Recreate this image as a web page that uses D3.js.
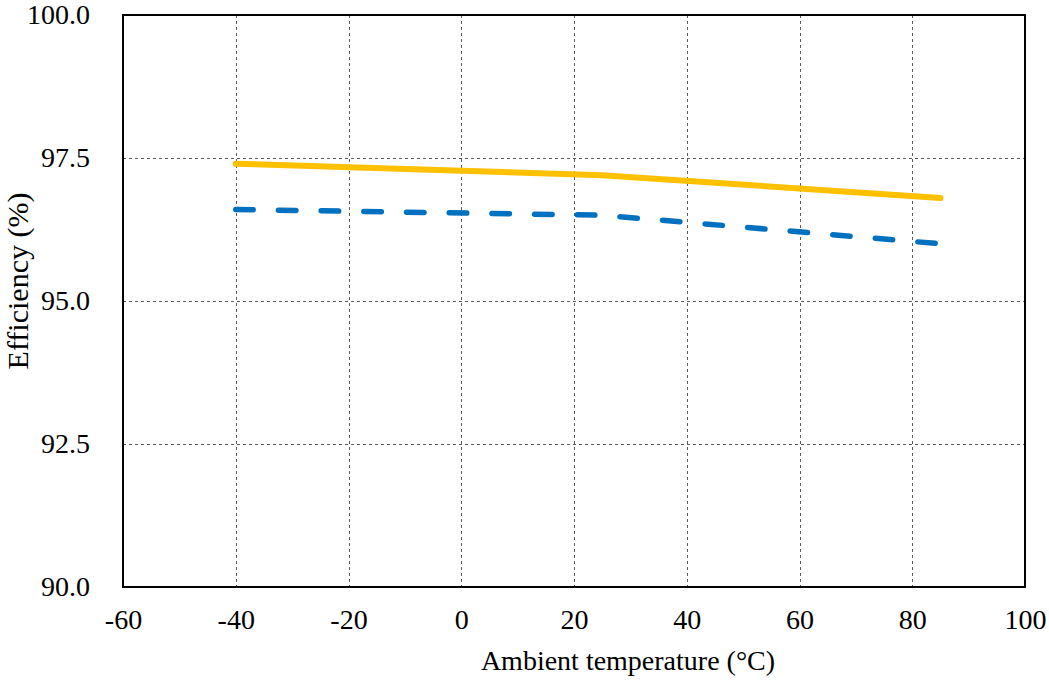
<!DOCTYPE html>
<html>
<head>
<meta charset="utf-8">
<script src="https://cdn.jsdelivr.net/npm/d3@7"></script>
<style>
  html, body { margin: 0; padding: 0; background: #fff; }
</style>
</head>
<body>
<svg id="chart"></svg>
<script>
// data
var temps = [-40, 25, 85];
var effSolid = [97.4, 97.2, 96.8];   // orange
var effDashed = [96.6, 96.5, 96.0];  // blue dashed
var xTicks = [-60, -40, -20, 0, 20, 40, 60, 80, 100];
var yTicks = [90, 92.5, 95, 97.5, 100];

var width = 1049, height = 684;
var marginLeft = 123, marginRight = 24, marginTop = 15, marginBottom = 97;
var serif = '"Liberation Serif"';

var svg = d3.select("#chart")
    .attr("width", width)
    .attr("height", height)
    .attr("viewBox", [0, 0, width, height]);

var x = d3.scaleLinear().domain([-60, 100]).range([marginLeft, width - marginRight]);
var y = d3.scaleLinear().domain([90, 100]).range([height - marginBottom, marginTop]);

// grid
var grid = svg.append("g")
    .attr("stroke", "#5a5a5a")
    .attr("stroke-width", 1)
    .attr("stroke-dasharray", "3,3");

grid.selectAll(".vg")
  .data(xTicks.slice(1, -1))
  .join("line")
    .attr("x1", d => Math.round(x(d)) + 0.5)
    .attr("x2", d => Math.round(x(d)) + 0.5)
    .attr("y1", y(100))
    .attr("y2", y(90));

grid.selectAll(".hg")
  .data(yTicks.slice(1, -1))
  .join("line")
    .attr("y1", d => Math.round(y(d)) + 0.5)
    .attr("y2", d => Math.round(y(d)) + 0.5)
    .attr("x1", x(-60))
    .attr("x2", x(100));

// series
var line = d3.line()
    .x((d, i) => x(temps[i]))
    .y(d => y(d));

svg.append("path")
    .datum(effSolid)
    .attr("fill", "none")
    .attr("stroke", "#FFC000")
    .attr("stroke-width", 6)
    .attr("stroke-linecap", "round")
    .attr("stroke-linejoin", "round")
    .attr("d", line);

svg.append("path")
    .datum(effDashed)
    .attr("fill", "none")
    .attr("stroke", "#0070C0")
    .attr("stroke-width", 5.5)
    .attr("stroke-linecap", "round")
    .attr("stroke-dasharray", "17.5,25.2")
    .attr("d", line);

// frame
svg.append("rect")
    .attr("x", x(-60))
    .attr("y", y(100))
    .attr("width", x(100) - x(-60))
    .attr("height", y(90) - y(100))
    .attr("fill", "none")
    .attr("stroke", "#000")
    .attr("stroke-width", 2);

// axes (labels only, Excel style)
var xAxis = d3.axisBottom(x).tickValues(xTicks).tickSize(0).tickPadding(22).tickFormat(d => String(d));
svg.append("g")
    .attr("transform", `translate(0,${y(90)})`)
    .call(xAxis)
    .call(g => g.select(".domain").remove())
    .call(g => g.selectAll("text")
        .style("font-size", "28px")
        .style("font-family", serif)
        .attr("fill", "#000"));

var yAxis = d3.axisLeft(y).tickValues(yTicks).tickSize(0).tickPadding(33).tickFormat(d => d.toFixed(1));
svg.append("g")
    .attr("transform", `translate(${x(-60)},0)`)
    .call(yAxis)
    .call(g => g.select(".domain").remove())
    .call(g => g.selectAll("text")
        .style("font-size", "28px")
        .style("font-family", serif)
        .attr("fill", "#000"));

// axis titles
svg.append("text")
    .attr("x", 628)
    .attr("y", 670)
    .attr("text-anchor", "middle")
    .style("font-size", "28px")
    .style("font-family", serif)
    .text("Ambient temperature (°C)");

svg.append("text")
    .attr("transform", "translate(28,281) rotate(-90)")
    .attr("text-anchor", "middle")
    .style("font-size", "30px")
    .style("font-family", serif)
    .text("Efficiency (%)");
</script>
</body>
</html>
